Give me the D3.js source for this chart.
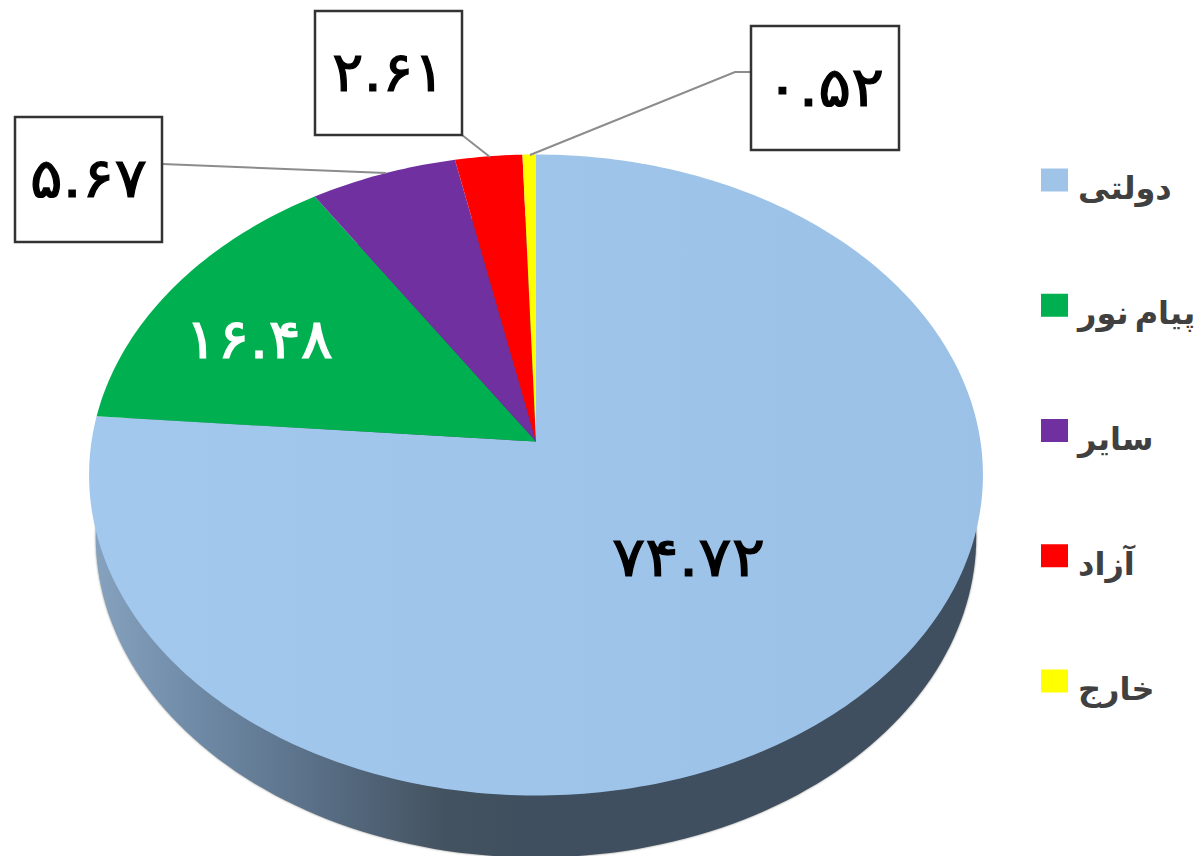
<!DOCTYPE html>
<html>
<head>
<meta charset="utf-8">
<script src="https://cdn.jsdelivr.net/npm/d3@7"></script>
<style>
  html, body { margin: 0; padding: 0; background: #fff; overflow: hidden; }
  svg { display: block; }
  text { font-family: "DejaVu Sans", sans-serif; }
</style>
</head>
<body>
<div id="grafico"></div>
<script>
// datos del gráfico
const CATEGORIAS = ["دولتی", "پیام نور", "سایر", "آزاد", "خارج"];
const VALORES = [74.72, 16.48, 5.67, 2.61, 0.52];
const ETIQUETAS = ["۷۴.۷۲", "۱۶.۴۸", "۵.۶۷", "۲.۶۱", "۰.۵۲"];
const COLORES = ["#9fc4e8", "#00b050", "#7030a0", "#ff0000", "#ffff00"];

const WIDTH = 1202;
const HEIGHT = 856;
const TAU = 2 * Math.PI;

// vista en perspectiva: el centro del pastel no coincide con el centro de la elipse
const APEX_X = 536;
const APEX_Y = 441.5;
const D = 444.5;
const A = 317;
const C = -0.1045;
const PROFUNDIDAD = 62;

const SVG = d3.select("#grafico").append("svg").attr("width", WIDTH).attr("height", HEIGHT);
const defs = SVG.append("defs");

const gradLado = defs.append("linearGradient").attr("id", "lado")
    .attr("gradientUnits", "userSpaceOnUse")
    .attr("x1", 90).attr("x2", 980).attr("y1", 0).attr("y2", 0);
[[0, "#86a3c0"], [0.12, "#6f8aa6"], [0.25, "#5a7088"], [0.4, "#43525f"], [0.5, "#3f4f5f"], [1, "#3f4f5f"]].forEach(s => {
    gradLado.append("stop").attr("offset", s[0]).attr("stop-color", s[1]);
});

const gradCara = defs.append("linearGradient").attr("id", "cara")
    .attr("gradientUnits", "userSpaceOnUse")
    .attr("x1", 90).attr("x2", 980).attr("y1", 0).attr("y2", 0);
gradCara.append("stop").attr("offset", 0).attr("stop-color", "#a3c8ed");
gradCara.append("stop").attr("offset", 1).attr("stop-color", "#9bc1e6");

defs.append("filter").attr("id", "borde").append("feGaussianBlur").attr("stdDeviation", 1.2);

// ángulo del pastel (desde arriba, horario) a punto en pantalla
function proyectar(angulo) {
    const u = Math.sin(angulo);
    const v = -Math.cos(angulo);
    const w = 1 + C * v;
    return [APEX_X + D * u / w, APEX_Y + A * v / w];
}

// la imagen original desplaza los bordes de las porciones por su inclinación
const pie = d3.pie().sort(null).value(d => d);
const porciones = pie(VALORES);
const anguloVista = d3.scaleLinear()
    .domain([0, porciones[0].endAngle, porciones[1].endAngle, porciones[2].endAngle, TAU])
    .range([0, 274.6, 327.2, 348.4, 360].map(g => g * Math.PI / 180));

const linea = d3.line();

function pathPorcion(d) {
    const a0 = anguloVista(d.startAngle);
    const a1 = anguloVista(d.endAngle);
    const pasos = Math.max(4, Math.ceil((a1 - a0) * 60));
    const puntos = d3.range(pasos + 1).map(i => proyectar(a0 + (a1 - a0) * i / pasos));
    return linea([[APEX_X, APEX_Y]].concat(puntos)) + "Z";
}

// contorno del lado inferior
const circulo = d3.range(241).map(i => proyectar(i / 240 * TAU));
const base = circulo.map(p => [APEX_X + (p[0] - APEX_X) * 0.985, p[1] + PROFUNDIDAD]);

SVG.append("path").attr("d", linea(base) + "Z")
    .attr("fill", "#8a8a86").attr("filter", "url(#borde)");
SVG.append("path").attr("d", linea(base) + "Z").attr("fill", "url(#lado)");

// caras del pastel
SVG.selectAll(".porcion")
    .data(porciones)
    .enter().append("path")
    .attr("class", "porcion")
    .attr("d", pathPorcion)
    .attr("fill", (d, i) => i === 0 ? "url(#cara)" : COLORES[i]);

// etiquetas dentro del pastel
const TEXTO_DENTRO = [
    { i: 0, x: 688.5, y: 576, largo: 153, color: "#000" },
    { i: 1, x: 259, y: 358, largo: 148, color: "#fff" }
];
SVG.selectAll(".dentro")
    .data(TEXTO_DENTRO)
    .enter().append("text")
    .attr("class", "dentro")
    .attr("x", d => d.x)
    .attr("y", d => d.y)
    .attr("text-anchor", "middle")
    .attr("font-size", 55)
    .attr("textLength", d => d.largo)
    .attr("lengthAdjust", "spacingAndGlyphs")
    .attr("stroke-width", 1.2)
    .attr("stroke", d => d.color)
    .attr("fill", d => d.color)
    .text(d => ETIQUETAS[d.i]);

// recuadros con línea guía
const RECUADROS = [
    { i: 2, x: 15, y: 117, w: 147, h: 125, largo: 117, guia: [[162, 164], [386, 173]] },
    { i: 3, x: 315, y: 11, w: 147, h: 124, largo: 113, guia: [[462, 135], [490, 157]] },
    { i: 4, x: 751, y: 26, w: 148, h: 124, largo: 118, guia: [[751, 72], [735, 72], [530, 155]] }
];
SVG.selectAll(".guia")
    .data(RECUADROS)
    .enter().append("path")
    .attr("class", "guia")
    .attr("d", d => linea(d.guia))
    .attr("fill", "none")
    .attr("stroke", "#8c8c8c")
    .attr("stroke-width", 2);

const recuadro = SVG.selectAll(".recuadro")
    .data(RECUADROS)
    .enter().append("g")
    .attr("class", "recuadro");
recuadro.append("rect")
    .attr("x", d => d.x)
    .attr("y", d => d.y)
    .attr("width", d => d.w)
    .attr("height", d => d.h)
    .attr("fill", "#fff")
    .attr("stroke", "#333")
    .attr("stroke-width", 2.5);
recuadro.append("text")
    .attr("x", d => d.x + d.w / 2)
    .attr("y", d => d.y + 80)
    .attr("text-anchor", "middle")
    .attr("font-size", 55)
    .attr("textLength", d => d.largo)
    .attr("lengthAdjust", "spacingAndGlyphs")
    .attr("stroke-width", 1.2)
    .attr("stroke", "#000")
    .attr("fill", "#000")
    .text(d => ETIQUETAS[d.i]);

// leyenda
const escalaLeyenda = d3.scalePoint()
    .domain(CATEGORIAS)
    .range([180, 681]);
const leyenda = SVG.selectAll(".leyenda")
    .data(CATEGORIAS)
    .enter().append("g")
    .attr("class", "leyenda")
    .attr("transform", d => "translate(1041," + escalaLeyenda(d) + ")");
leyenda.append("rect")
    .attr("y", -11.5)
    .attr("width", 27)
    .attr("height", 23)
    .attr("fill", (d, i) => COLORES[i]);
leyenda.append("text")
    .attr("x", 37)
    .attr("y", 19)
    .attr("direction", "rtl")
    .attr("text-anchor", "end")
    .attr("font-size", 32)
    .attr("font-weight", "bold")
    .attr("word-spacing", -5)
    .attr("fill", "#404040")
    .text(d => d);
</script>
</body>
</html>
